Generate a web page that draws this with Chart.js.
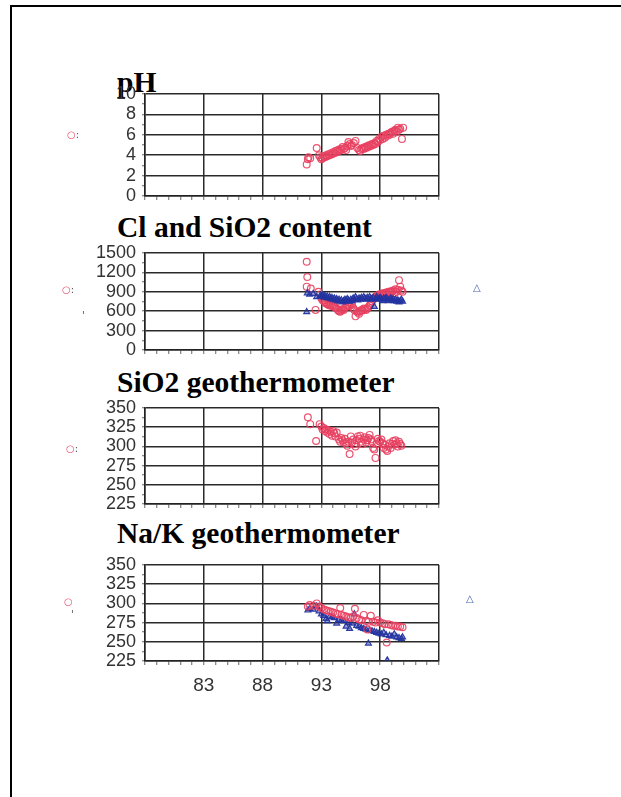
<!DOCTYPE html>
<html><head><meta charset="utf-8">
<script src="https://cdn.jsdelivr.net/npm/chart.js@4"></script>
<style>
html,body{margin:0;padding:0;background:#fff;width:621px;height:797px;overflow:hidden;position:relative}
#frame{position:absolute;left:10px;top:5px;width:620px;height:800px;border-top:2px solid #000;border-left:2px solid #000;box-sizing:border-box}
canvas{position:absolute;left:0;top:0}
.ttl{position:absolute;left:117px;font-family:"Liberation Serif","Times New Roman",serif;font-weight:bold;font-size:29.5px;line-height:29.5px;color:#000;white-space:nowrap}
.lg{position:absolute;font-family:"DejaVu Sans",sans-serif;font-size:10px;line-height:10px;white-space:nowrap}
.pk{color:#e8506e}
.bl{color:#4a62b8}
.dk{color:#555}
</style></head><body>
<div id="frame"></div>
<div class="ttl" style="top:68px">pH</div>
<div class="ttl" style="top:213px">Cl and SiO2 content</div>
<div class="ttl" style="top:368px">SiO2 geothermometer</div>
<div class="ttl" style="top:519px">Na/K geothermometer</div>
<canvas id="c1" width="621" height="797"></canvas>
<canvas id="c2" width="621" height="797"></canvas>
<canvas id="c3" width="621" height="797"></canvas>
<canvas id="c4" width="621" height="797"></canvas>
<div class="lg" style="left:67px;top:130px"><span class="pk">○</span><span class="dk">:</span></div>
<div class="lg" style="left:62px;top:285px"><span class="pk">○</span><span class="dk">:</span></div>
<div class="lg" style="left:82px;top:311px"><span class="dk">'</span></div>
<div class="lg" style="left:473px;top:283px"><span class="bl">△</span></div>
<div class="lg" style="left:66px;top:444px"><span class="pk">○</span><span class="dk">:</span></div>
<div class="lg" style="left:64px;top:597px"><span class="pk">○</span></div>
<div class="lg" style="left:71px;top:610px"><span class="dk">'</span></div>
<div class="lg" style="left:466px;top:594px"><span class="bl">△</span></div>
<script>
// ---------- data ----------
const xTickLabels = [83, 88, 93, 98];

const phYears = [91.75,91.85,91.9,92.05,92.6,92.8,92.9,93.0,93.1,93.2,93.3,93.4,93.5,93.6,93.7,93.8,93.9,94.0,94.1,94.2,94.3,94.4,94.5,94.6,94.7,94.8,94.9,95.0,95.1,95.2,95.3,95.4,95.5,95.6,95.75,95.9,96.05,96.2,96.3,96.4,96.5,96.6,96.7,96.8,96.9,97.0,97.1,97.2,97.3,97.4,97.5,97.6,97.7,97.8,97.9,98.0,98.1,98.2,98.3,98.4,98.5,98.6,98.7,98.8,98.9,99.0,99.1,99.2,99.3,99.4,99.5,99.6,99.7,99.85,99.95];
const phValues = [3.1,3.6,3.8,3.7,4.7,4.0,3.8,3.6,3.7,3.9,3.8,4.0,3.9,4.1,4.0,4.2,4.1,4.3,4.2,4.4,4.3,4.5,4.4,4.6,4.5,4.8,4.6,4.7,4.5,4.9,5.3,5.1,4.9,5.0,5.2,5.4,4.7,4.5,4.4,4.6,4.7,4.6,4.8,4.7,4.9,4.8,5.0,4.9,5.1,5.0,5.2,5.1,5.4,5.3,5.6,5.5,5.8,5.6,5.9,5.7,6.0,5.9,6.1,6.0,6.2,6.3,6.1,6.4,6.5,6.3,6.7,6.5,6.6,5.6,6.7];

const clYears = [91.75,91.8,91.75,92.1,92.5,92.75,92.9,93.0,93.1,93.2,93.3,93.4,93.5,93.6,93.7,93.8,93.9,94.0,94.1,94.2,94.3,94.4,94.5,94.6,94.7,94.8,94.9,95.0,95.1,95.2,95.3,95.4,95.5,95.6,95.7,95.8,95.9,96.0,96.1,96.2,96.3,96.4,96.5,96.6,96.7,96.8,96.9,97.0,97.1,97.2,97.3,97.4,97.5,97.6,97.7,97.8,97.9,98.0,98.1,98.2,98.3,98.4,98.5,98.6,98.7,98.8,98.9,99.0,99.1,99.2,99.3,99.4,99.5,99.6,99.7,99.8,99.9];
const clValues = [1365,1130,980,950,620,900,860,800,770,760,740,720,710,700,690,700,680,690,670,660,640,620,600,590,610,630,620,650,670,690,700,680,720,700,650,620,520,600,580,560,600,620,610,640,630,620,640,660,690,720,750,780,800,820,840,830,860,850,870,860,880,870,890,880,900,890,910,900,920,880,940,900,930,1080,980,920,900];

const sio2Years = [91.75,91.8,92.0,92.3,92.6,92.9,93.0,93.1,93.2,93.3,93.4,93.5,93.6,93.7,93.8,93.9,94.0,94.1,94.2,94.3,94.4,94.5,94.6,94.7,94.8,94.9,95.0,95.1,95.2,95.3,95.4,95.5,95.6,95.7,95.8,95.9,96.0,96.1,96.2,96.3,96.4,96.5,96.6,96.7,96.8,96.9,97.0,97.1,97.2,97.3,97.4,97.5,97.6,97.7,97.8,97.9,98.0,98.1,98.2,98.3,98.4,98.5,98.6,98.7,98.8,98.9,99.0,99.1,99.2,99.3,99.4,99.5,99.6,99.7,99.8,99.9];
const sio2Values = [590,880,860,870,820,840,830,850,820,840,810,830,800,820,790,810,780,800,770,790,760,780,750,770,740,760,780,760,790,770,750,780,760,800,780,820,790,770,800,780,810,790,820,800,780,810,790,820,800,780,810,670,790,820,800,780,810,790,760,800,780,810,790,760,780,800,770,790,760,780,750,770,740,760,780,750];

const geoSiYears = [91.85,92.05,92.55,92.85,93.0,93.1,93.2,93.3,93.4,93.5,93.6,93.7,93.8,93.9,94.0,94.1,94.2,94.3,94.5,94.6,94.7,94.8,94.9,95.0,95.1,95.2,95.3,95.4,95.5,95.6,95.7,95.8,95.9,96.0,96.1,96.2,96.3,96.4,96.5,96.6,96.7,96.8,96.9,97.0,97.1,97.2,97.3,97.4,97.5,97.6,97.7,97.8,97.9,98.0,98.1,98.2,98.3,98.4,98.5,98.6,98.7,98.8,98.9,99.0,99.1,99.2,99.3,99.4,99.5,99.6,99.7,99.8];
const geoSiValues = [338,329,307,329,326,322,324,320,322,318,321,316,319,314,320,317,313,318,309,306,311,308,305,310,304,301,306,290,313,305,309,303,300,308,313,310,314,306,303,309,312,305,308,311,315,309,306,298,296,285,303,310,307,306,309,304,298,302,296,294,300,304,298,303,307,302,308,304,300,306,303,301];

const naKAYears = [91.85,92.0,92.3,92.6,92.8,93.0,93.2,93.4,93.6,93.8,94.0,94.2,94.4,94.6,94.7,94.9,95.1,95.3,95.5,95.7,95.85,96.0,96.2,96.4,96.6,96.8,96.9,97.0,97.2,97.4,97.6,97.8,98.0,98.2,98.4,98.55,98.7,98.9,99.1,99.3,99.5,99.7,99.9];
const naKAValues = [296,298,297,300,296,294,292,291,290,289,288,287,286,294,285,284,283,282,281,283,293,281,279,278,285,277,266,276,284,276,275,278,275,274,273,249,273,272,271,271,270,270,269];

const naKBYears = [91.85,92.0,92.3,92.6,92.8,93.0,93.2,93.4,93.5,93.7,93.9,94.1,94.3,94.5,94.7,94.9,95.1,95.3,95.4,95.6,95.8,96.0,96.2,96.4,96.6,96.8,97.0,97.1,97.3,97.5,97.7,97.9,98.1,98.3,98.5,98.6,98.8,99.0,99.2,99.4,99.6,99.8,99.9];
const naKBValues = [291,293,292,296,290,286,284,280,277,283,282,281,274,279,278,277,270,275,267,274,286,271,270,268,267,266,248,265,264,263,262,261,260,262,259,226,258,257,260,256,255,254,256];

// ---------- helpers ----------
const RED = 'rgba(232,64,96,0.9)';
const BLUE = 'rgba(36,52,160,0.95)';
const pts = (xs, ys) => xs.map((x, i) => ({x: x, y: ys[i]}));

function redSet(xs, ys) {
  return {data: pts(xs, ys), pointStyle: 'circle', pointRadius: 3.4, borderWidth: 1.2,
          borderColor: RED, backgroundColor: 'rgba(255,255,255,0)', showLine: false};
}
function blueSet(xs, ys) {
  return {data: pts(xs, ys), pointStyle: 'triangle', pointRadius: 3.4, borderWidth: 1.2,
          borderColor: BLUE, backgroundColor: 'rgba(36,52,160,0.45)', showLine: false};
}

function isMajor(v, base, step) {
  const k = (v - base) / step;
  return Math.abs(k - Math.round(k)) < 1e-6;
}

function panel(id, top, bottom, ymin, ymax, ystep, datasets, showX) {
  const xh = showX ? 34 : 8;
  new Chart(document.getElementById(id), {
    type: 'scatter',
    data: {datasets: datasets},
    options: {
      responsive: false, animation: false, events: [],
      layout: {padding: {left: 0, right: 182, top: top, bottom: 797 - bottom - xh}},
      plugins: {legend: {display: false}, tooltip: {enabled: false}, title: {display: false}},
      scales: {
        x: {
          type: 'linear', min: 78, max: 103,
          afterFit: s => { s.height = xh; },
          border: {display: true, color: '#222', width: 1.5},
          grid: {
            color: c => isMajor(c.tick.value, 78, 5) ? '#2a2a2a' : 'rgba(0,0,0,0)',
            lineWidth: 1.5, drawTicks: true, tickLength: 4, tickColor: '#666', tickWidth: 1
          },
          ticks: {
            stepSize: 1, autoSkip: false, maxRotation: 0, padding: 9,
            color: '#333', font: {family: 'Liberation Sans', size: 19},
            callback: v => (showX && xTickLabels.includes(Math.round(v))) ? String(Math.round(v)) : ''
          }
        },
        y: {
          min: ymin, max: ymax,
          afterFit: s => { s.width = 145; },
          border: {display: true, color: '#222', width: 1.5},
          grid: {
            color: c => isMajor(c.tick.value, ymin, ystep) ? '#2a2a2a' : 'rgba(0,0,0,0)',
            lineWidth: 1.5, drawTicks: true, tickLength: 3, tickColor: '#666', tickWidth: 1
          },
          ticks: {stepSize: ystep / 2, autoSkip: false, padding: 6, color: '#333',
                  font: {family: 'Liberation Sans', size: 18},
                  callback: v => isMajor(v, ymin, ystep) ? String(v) : ''}
        }
      }
    }
  });
}

panel('c1', 94, 196, 0, 10, 2, [redSet(phYears, phValues)], false);
panel('c2', 253, 350, 0, 1500, 300, [blueSet(sio2Years, sio2Values), redSet(clYears, clValues)], false);
panel('c3', 408, 504, 225, 350, 25, [redSet(geoSiYears, geoSiValues)], false);
panel('c4', 565, 661, 225, 350, 25, [redSet(naKAYears, naKAValues), blueSet(naKBYears, naKBValues)], true);
</script>
</body></html>
